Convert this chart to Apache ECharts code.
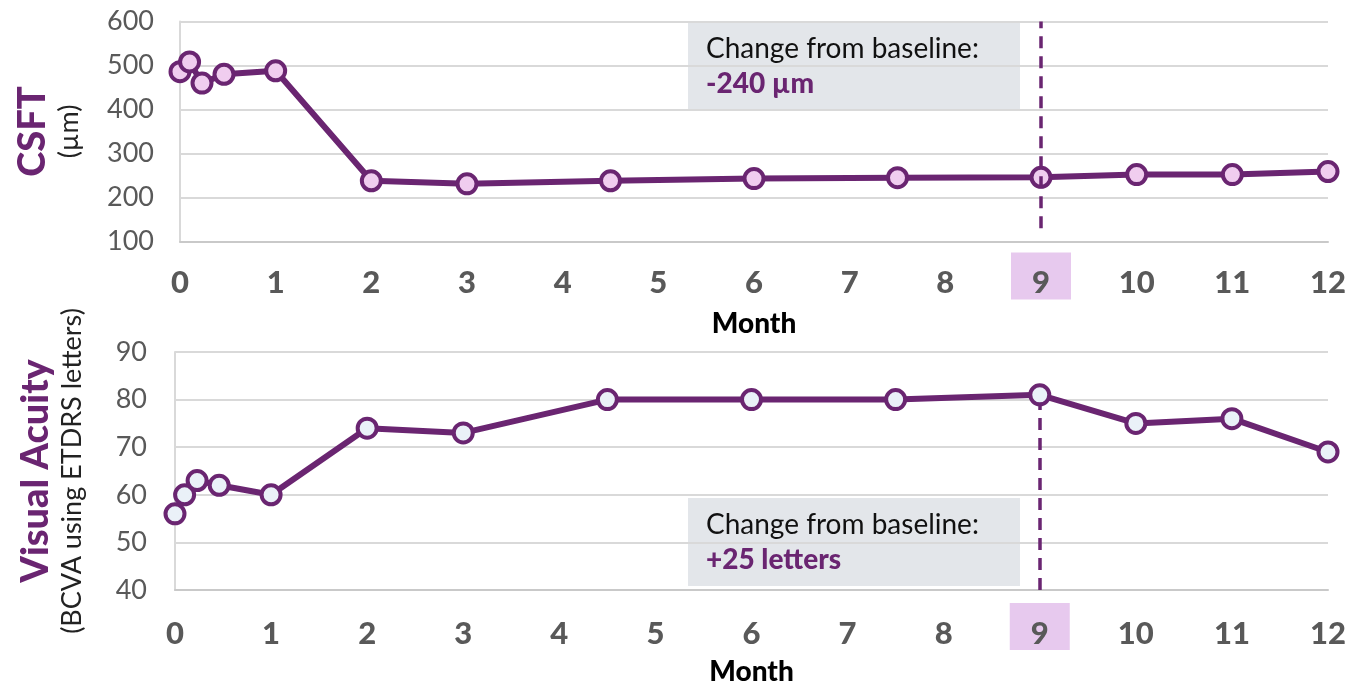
<!DOCTYPE html>
<html>
<head>
<meta charset="utf-8">
<script src="https://cdn.jsdelivr.net/npm/echarts@6/dist/echarts.min.js"></script>
<style>
  html, body { margin: 0; padding: 0; background: #fff; }
  #chart { width: 1372px; height: 687px; }
</style>
</head>
<body>
<div id="chart"></div>
<script>
// Visit times (months since baseline)
const months = [0, 0.1, 0.23, 0.46, 1, 2, 3, 4.5, 6, 7.5, 9, 10, 11, 12];
// Central subfield thickness (µm)
const csft = [486, 508, 460, 480, 488, 238, 231, 238, 243, 245, 246, 252, 252, 259];
// Best-corrected visual acuity (ETDRS letters)
const bcva = [56, 60, 63, 62, 60, 74, 73, 80, 80, 80, 81, 75, 76, 69];
// Month ticks on the x axes
const monthTicks = [0, 1, 2, 3, 4, 5, 6, 7, 8, 9, 10, 11, 12];
// Highlighted visit
const keyMonth = 9;

const PURPLE = '#6a2571';
const GREY_TXT = '#595959';
const GRID_LINE = '#d9d9d9';
const FONT = 'Lato';

const keyIdx = months.indexOf(keyMonth);
const csftChange = csft[keyIdx] - csft[0];
const bcvaChange = bcva[keyIdx] - bcva[0];
const signed = v => (v > 0 ? '+' : '') + v;

const pairs = vals => months.map((m, i) => [m, vals[i]]);

function xAxisFor(gridIndex, margin) {
  const tick = { fontFamily: FONT, fontWeight: 900, fontSize: 31, color: GREY_TXT,
                 lineHeight: 35, padding: [15, 0, 1, 0], width: 60, align: 'center' };
  return {
    type: 'value', gridIndex, min: monthTicks[0], max: monthTicks[monthTicks.length - 1], interval: 1,
    axisLine: { show: true, lineStyle: { color: '#c9c9c9', width: 2 } },
    axisTick: { show: false },
    splitLine: { show: false },
    axisLabel: {
      margin,
      formatter: v => (v === keyMonth ? '{hl|' + v + '}' : '{n|' + v + '}'),
      rich: {
        n: tick,
        hl: Object.assign({}, tick, { backgroundColor: '#e7c9ee' })
      }
    },
    name: 'Month',
    nameLocation: 'middle',
    nameGap: 68,
    nameTextStyle: { fontFamily: FONT, fontWeight: 900, fontSize: 28, color: '#000' }
  };
}

function yAxisFor(gridIndex, min, max, interval, margin, title, sub, nameGap) {
  return {
    type: 'value', gridIndex, min, max, interval,
    axisLine: { show: true, lineStyle: { color: GRID_LINE, width: 2 } },
    axisTick: { show: false },
    splitLine: { show: true, lineStyle: { color: GRID_LINE, width: 2 } },
    axisLabel: { margin, fontFamily: FONT, fontSize: 27, color: GREY_TXT },
    name: '{t|' + title + '}\n{s|' + sub + '}',
    nameLocation: 'middle',
    nameRotate: 90,
    nameGap,
    nameTextStyle: {
      rich: {
        t: { fontFamily: FONT, fontWeight: 900, fontSize: 38, color: PURPLE, lineHeight: 42 },
        s: { fontFamily: FONT, fontSize: 27, color: '#222', lineHeight: 30 }
      }
    }
  };
}

function lineSeries(idx, vals, markerFill, markZ, markFrom, markTo) {
  return {
    type: 'line',
    xAxisIndex: idx, yAxisIndex: idx,
    data: pairs(vals),
    symbol: 'circle',
    symbolSize: 19,
    lineStyle: { color: PURPLE, width: 6 },
    itemStyle: { color: markerFill, borderColor: PURPLE, borderWidth: 4 },
    z: 3,
    animation: false,
    markLine: {
      silent: true, symbol: 'none', z: markZ,
      label: { show: false },
      lineStyle: { color: PURPLE, width: 3.5, type: [12, 8] },
      data: [[{ coord: [keyMonth, markFrom] }, { coord: [keyMonth, markTo] }]]
    }
  };
}

function noteBox(x, y, w, h, value) {
  return {
    type: 'group', left: x, top: y,
    children: [
      { type: 'rect', shape: { x: 0, y: 0, width: w, height: h }, style: { fill: '#e3e6ea' } },
      { type: 'text', x: 18, y: 27,
        style: { text: 'Change from baseline:', fontFamily: FONT, fontSize: 28, fill: '#111',
                 verticalAlign: 'middle' } },
      { type: 'text', x: 18, y: 62,
        style: { text: value, fontFamily: FONT, fontWeight: 900, fontSize: 28, fill: PURPLE,
                 verticalAlign: 'middle' } }
    ]
  };
}

const chart = echarts.init(document.getElementById('chart'));
chart.setOption({
  animation: false,
  grid: [
    { left: 180, right: 44, top: 21.5, height: 220 },
    { left: 175, right: 44, top: 352, height: 238 }
  ],
  xAxis: [xAxisFor(0, 17), xAxisFor(1, 19)],
  yAxis: [
    yAxisFor(0, 100, 600, 100, 26, 'CSFT', '(µm)', 96),
    yAxisFor(1, 40, 90, 10, 28, 'Visual Acuity', '(BCVA using ETDRS letters)', 88)
  ],
  series: [
    lineSeries(0, csft, '#f0cdef', 5, 130, 600),
    lineSeries(1, bcva, '#eaf1f8', 1, 40, bcva[keyIdx])
  ],
  graphic: [
    noteBox(688, 22, 332, 87, signed(csftChange) + ' µm'),
    noteBox(688, 498, 332, 88, signed(bcvaChange) + ' letters')
  ]
});
</script>
</body>
</html>
